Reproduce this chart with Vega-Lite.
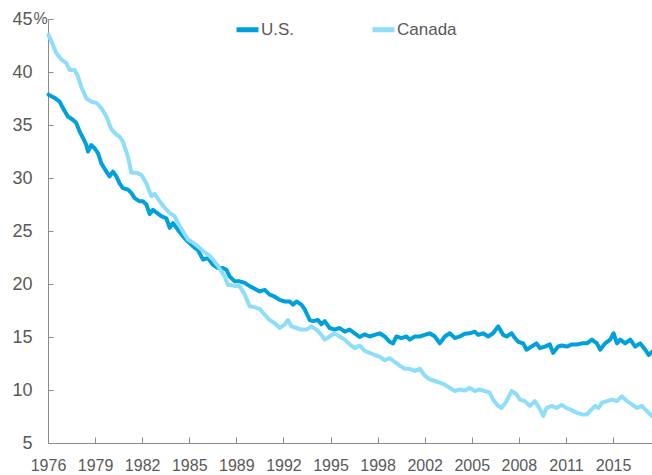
{
  "$schema": "https://vega.github.io/schema/vega-lite/v6.json",
  "width": 604,
  "height": 424,
  "autosize": {"type": "none"},
  "padding": {"left": 48, "top": 19, "right": 0, "bottom": 32},
  "background": "white",
  "config": {
    "view": {"stroke": null},
    "axis": {
      "domainColor": "#8c8c8c",
      "tickColor": "#8c8c8c",
      "labelColor": "#595959",
      "labelFont": "Liberation Sans",
      "labelFontSize": 16,
      "grid": false
    },
    "legend": {
      "labelFont": "Liberation Sans",
      "labelFontSize": 17,
      "labelColor": "#595959"
    }
  },
  "data": {
    "values": [
      {"t": 1976.04, "s": "U.S.", "v": 37.86},
      {"t": 1976.46, "s": "U.S.", "v": 37.55},
      {"t": 1976.80, "s": "U.S.", "v": 37.2},
      {"t": 1977.03, "s": "U.S.", "v": 36.6},
      {"t": 1977.37, "s": "U.S.", "v": 35.8},
      {"t": 1977.72, "s": "U.S.", "v": 35.5},
      {"t": 1977.95, "s": "U.S.", "v": 35.2},
      {"t": 1978.18, "s": "U.S.", "v": 34.4},
      {"t": 1978.41, "s": "U.S.", "v": 33.8},
      {"t": 1978.65, "s": "U.S.", "v": 33.1},
      {"t": 1978.76, "s": "U.S.", "v": 32.5},
      {"t": 1978.99, "s": "U.S.", "v": 33.1},
      {"t": 1979.22, "s": "U.S.", "v": 32.8},
      {"t": 1979.45, "s": "U.S.", "v": 32.35},
      {"t": 1979.68, "s": "U.S.", "v": 31.4},
      {"t": 1980.03, "s": "U.S.", "v": 30.6},
      {"t": 1980.25, "s": "U.S.", "v": 30.15},
      {"t": 1980.48, "s": "U.S.", "v": 30.6},
      {"t": 1980.72, "s": "U.S.", "v": 30.15},
      {"t": 1980.94, "s": "U.S.", "v": 29.5},
      {"t": 1981.17, "s": "U.S.", "v": 29.05},
      {"t": 1981.52, "s": "U.S.", "v": 28.9},
      {"t": 1981.75, "s": "U.S.", "v": 28.6},
      {"t": 1981.98, "s": "U.S.", "v": 28.1},
      {"t": 1982.33, "s": "U.S.", "v": 27.8},
      {"t": 1982.55, "s": "U.S.", "v": 27.8},
      {"t": 1982.79, "s": "U.S.", "v": 27.5},
      {"t": 1983.02, "s": "U.S.", "v": 26.6},
      {"t": 1983.24, "s": "U.S.", "v": 27.0},
      {"t": 1983.82, "s": "U.S.", "v": 26.4},
      {"t": 1984.17, "s": "U.S.", "v": 26.2},
      {"t": 1984.40, "s": "U.S.", "v": 25.3},
      {"t": 1984.63, "s": "U.S.", "v": 25.75},
      {"t": 1984.97, "s": "U.S.", "v": 25.1},
      {"t": 1985.32, "s": "U.S.", "v": 24.5},
      {"t": 1985.66, "s": "U.S.", "v": 24.0},
      {"t": 1986.01, "s": "U.S.", "v": 23.55},
      {"t": 1986.35, "s": "U.S.", "v": 23.2},
      {"t": 1986.70, "s": "U.S.", "v": 22.3},
      {"t": 1987.04, "s": "U.S.", "v": 22.45},
      {"t": 1987.39, "s": "U.S.", "v": 21.8},
      {"t": 1987.73, "s": "U.S.", "v": 21.5},
      {"t": 1988.08, "s": "U.S.", "v": 21.5},
      {"t": 1988.31, "s": "U.S.", "v": 21.35},
      {"t": 1988.54, "s": "U.S.", "v": 20.7},
      {"t": 1988.89, "s": "U.S.", "v": 20.25},
      {"t": 1989.23, "s": "U.S.", "v": 20.25},
      {"t": 1989.58, "s": "U.S.", "v": 20.1},
      {"t": 1989.92, "s": "U.S.", "v": 19.8},
      {"t": 1990.27, "s": "U.S.", "v": 19.55},
      {"t": 1990.61, "s": "U.S.", "v": 19.3},
      {"t": 1990.96, "s": "U.S.", "v": 19.45},
      {"t": 1991.30, "s": "U.S.", "v": 19.0},
      {"t": 1991.65, "s": "U.S.", "v": 18.8},
      {"t": 1991.99, "s": "U.S.", "v": 18.5},
      {"t": 1992.34, "s": "U.S.", "v": 18.35},
      {"t": 1992.68, "s": "U.S.", "v": 18.35},
      {"t": 1992.91, "s": "U.S.", "v": 18.05},
      {"t": 1993.15, "s": "U.S.", "v": 18.35},
      {"t": 1993.49, "s": "U.S.", "v": 18.05},
      {"t": 1993.72, "s": "U.S.", "v": 17.6},
      {"t": 1994.07, "s": "U.S.", "v": 16.6},
      {"t": 1994.29, "s": "U.S.", "v": 16.5},
      {"t": 1994.64, "s": "U.S.", "v": 16.6},
      {"t": 1994.87, "s": "U.S.", "v": 16.2},
      {"t": 1995.10, "s": "U.S.", "v": 16.5},
      {"t": 1995.44, "s": "U.S.", "v": 15.85},
      {"t": 1995.79, "s": "U.S.", "v": 15.7},
      {"t": 1996.13, "s": "U.S.", "v": 15.85},
      {"t": 1996.48, "s": "U.S.", "v": 15.5},
      {"t": 1996.82, "s": "U.S.", "v": 15.7},
      {"t": 1997.17, "s": "U.S.", "v": 15.35},
      {"t": 1997.51, "s": "U.S.", "v": 15.0},
      {"t": 1997.86, "s": "U.S.", "v": 15.25},
      {"t": 1998.20, "s": "U.S.", "v": 15.05},
      {"t": 1998.55, "s": "U.S.", "v": 15.2},
      {"t": 1998.89, "s": "U.S.", "v": 15.35},
      {"t": 1999.24, "s": "U.S.", "v": 15.05},
      {"t": 1999.58, "s": "U.S.", "v": 14.55},
      {"t": 1999.82, "s": "U.S.", "v": 14.4},
      {"t": 2000.05, "s": "U.S.", "v": 15.05},
      {"t": 2000.40, "s": "U.S.", "v": 14.9},
      {"t": 2000.74, "s": "U.S.", "v": 15.05},
      {"t": 2000.97, "s": "U.S.", "v": 14.75},
      {"t": 2001.32, "s": "U.S.", "v": 15.05},
      {"t": 2001.66, "s": "U.S.", "v": 15.05},
      {"t": 2002.01, "s": "U.S.", "v": 15.2},
      {"t": 2002.35, "s": "U.S.", "v": 15.35},
      {"t": 2002.70, "s": "U.S.", "v": 15.05},
      {"t": 2003.04, "s": "U.S.", "v": 14.4},
      {"t": 2003.39, "s": "U.S.", "v": 15.05},
      {"t": 2003.73, "s": "U.S.", "v": 15.35},
      {"t": 2004.08, "s": "U.S.", "v": 14.9},
      {"t": 2004.42, "s": "U.S.", "v": 15.05},
      {"t": 2004.77, "s": "U.S.", "v": 15.3},
      {"t": 2005.11, "s": "U.S.", "v": 15.35},
      {"t": 2005.46, "s": "U.S.", "v": 15.5},
      {"t": 2005.69, "s": "U.S.", "v": 15.2},
      {"t": 2006.03, "s": "U.S.", "v": 15.35},
      {"t": 2006.38, "s": "U.S.", "v": 15.05},
      {"t": 2006.72, "s": "U.S.", "v": 15.35},
      {"t": 2007.07, "s": "U.S.", "v": 16.0},
      {"t": 2007.42, "s": "U.S.", "v": 15.2},
      {"t": 2007.65, "s": "U.S.", "v": 15.05},
      {"t": 2008.00, "s": "U.S.", "v": 15.35},
      {"t": 2008.23, "s": "U.S.", "v": 14.9},
      {"t": 2008.45, "s": "U.S.", "v": 14.55},
      {"t": 2008.80, "s": "U.S.", "v": 14.4},
      {"t": 2009.03, "s": "U.S.", "v": 13.8},
      {"t": 2009.38, "s": "U.S.", "v": 14.1},
      {"t": 2009.72, "s": "U.S.", "v": 14.4},
      {"t": 2009.95, "s": "U.S.", "v": 13.95},
      {"t": 2010.30, "s": "U.S.", "v": 14.1},
      {"t": 2010.64, "s": "U.S.", "v": 14.3},
      {"t": 2010.87, "s": "U.S.", "v": 13.5},
      {"t": 2011.21, "s": "U.S.", "v": 14.1},
      {"t": 2011.47, "s": "U.S.", "v": 14.2},
      {"t": 2011.81, "s": "U.S.", "v": 14.1},
      {"t": 2012.16, "s": "U.S.", "v": 14.3},
      {"t": 2012.51, "s": "U.S.", "v": 14.3},
      {"t": 2012.85, "s": "U.S.", "v": 14.4},
      {"t": 2013.20, "s": "U.S.", "v": 14.4},
      {"t": 2013.54, "s": "U.S.", "v": 14.75},
      {"t": 2013.89, "s": "U.S.", "v": 14.4},
      {"t": 2014.11, "s": "U.S.", "v": 13.8},
      {"t": 2014.46, "s": "U.S.", "v": 14.4},
      {"t": 2014.80, "s": "U.S.", "v": 14.75},
      {"t": 2015.04, "s": "U.S.", "v": 15.35},
      {"t": 2015.27, "s": "U.S.", "v": 14.4},
      {"t": 2015.50, "s": "U.S.", "v": 14.75},
      {"t": 2015.84, "s": "U.S.", "v": 14.4},
      {"t": 2016.19, "s": "U.S.", "v": 14.75},
      {"t": 2016.53, "s": "U.S.", "v": 14.1},
      {"t": 2016.88, "s": "U.S.", "v": 14.4},
      {"t": 2017.22, "s": "U.S.", "v": 13.8},
      {"t": 2017.46, "s": "U.S.", "v": 13.3},
      {"t": 2017.69, "s": "U.S.", "v": 13.6},

      {"t": 1976.04, "s": "Canada", "v": 43.5},
      {"t": 1976.57, "s": "Canada", "v": 41.8},
      {"t": 1976.92, "s": "Canada", "v": 41.2},
      {"t": 1977.26, "s": "Canada", "v": 40.85},
      {"t": 1977.49, "s": "Canada", "v": 40.2},
      {"t": 1977.84, "s": "Canada", "v": 40.2},
      {"t": 1978.06, "s": "Canada", "v": 39.6},
      {"t": 1978.30, "s": "Canada", "v": 38.6},
      {"t": 1978.65, "s": "Canada", "v": 37.5},
      {"t": 1978.99, "s": "Canada", "v": 37.2},
      {"t": 1979.34, "s": "Canada", "v": 37.1},
      {"t": 1979.68, "s": "Canada", "v": 36.6},
      {"t": 1980.03, "s": "Canada", "v": 35.8},
      {"t": 1980.37, "s": "Canada", "v": 34.6},
      {"t": 1980.72, "s": "Canada", "v": 34.1},
      {"t": 1980.94, "s": "Canada", "v": 33.9},
      {"t": 1981.17, "s": "Canada", "v": 33.45},
      {"t": 1981.52, "s": "Canada", "v": 32.0},
      {"t": 1981.75, "s": "Canada", "v": 30.5},
      {"t": 1982.10, "s": "Canada", "v": 30.5},
      {"t": 1982.44, "s": "Canada", "v": 30.3},
      {"t": 1982.79, "s": "Canada", "v": 29.5},
      {"t": 1983.13, "s": "Canada", "v": 28.3},
      {"t": 1983.36, "s": "Canada", "v": 28.5},
      {"t": 1983.71, "s": "Canada", "v": 27.8},
      {"t": 1984.05, "s": "Canada", "v": 27.2},
      {"t": 1984.40, "s": "Canada", "v": 26.7},
      {"t": 1984.74, "s": "Canada", "v": 26.4},
      {"t": 1984.97, "s": "Canada", "v": 25.75},
      {"t": 1985.32, "s": "Canada", "v": 24.95},
      {"t": 1985.66, "s": "Canada", "v": 24.2},
      {"t": 1986.01, "s": "Canada", "v": 23.9},
      {"t": 1986.35, "s": "Canada", "v": 23.55},
      {"t": 1986.70, "s": "Canada", "v": 23.1},
      {"t": 1987.04, "s": "Canada", "v": 22.8},
      {"t": 1987.39, "s": "Canada", "v": 22.3},
      {"t": 1987.73, "s": "Canada", "v": 21.7},
      {"t": 1987.97, "s": "Canada", "v": 21.2},
      {"t": 1988.20, "s": "Canada", "v": 20.7},
      {"t": 1988.42, "s": "Canada", "v": 19.9},
      {"t": 1988.66, "s": "Canada", "v": 19.9},
      {"t": 1988.89, "s": "Canada", "v": 19.8},
      {"t": 1989.23, "s": "Canada", "v": 19.8},
      {"t": 1989.58, "s": "Canada", "v": 19.0},
      {"t": 1989.92, "s": "Canada", "v": 17.9},
      {"t": 1990.27, "s": "Canada", "v": 17.8},
      {"t": 1990.61, "s": "Canada", "v": 17.65},
      {"t": 1990.96, "s": "Canada", "v": 17.1},
      {"t": 1991.30, "s": "Canada", "v": 16.6},
      {"t": 1991.65, "s": "Canada", "v": 16.3},
      {"t": 1991.99, "s": "Canada", "v": 15.85},
      {"t": 1992.34, "s": "Canada", "v": 16.2},
      {"t": 1992.57, "s": "Canada", "v": 16.6},
      {"t": 1992.80, "s": "Canada", "v": 16.0},
      {"t": 1993.15, "s": "Canada", "v": 15.85},
      {"t": 1993.49, "s": "Canada", "v": 15.7},
      {"t": 1993.84, "s": "Canada", "v": 15.7},
      {"t": 1994.18, "s": "Canada", "v": 16.0},
      {"t": 1994.53, "s": "Canada", "v": 15.7},
      {"t": 1994.87, "s": "Canada", "v": 15.2},
      {"t": 1995.10, "s": "Canada", "v": 14.75},
      {"t": 1995.44, "s": "Canada", "v": 15.05},
      {"t": 1995.79, "s": "Canada", "v": 15.35},
      {"t": 1996.13, "s": "Canada", "v": 15.05},
      {"t": 1996.48, "s": "Canada", "v": 14.75},
      {"t": 1996.82, "s": "Canada", "v": 14.3},
      {"t": 1997.17, "s": "Canada", "v": 13.95},
      {"t": 1997.51, "s": "Canada", "v": 14.2},
      {"t": 1997.86, "s": "Canada", "v": 13.7},
      {"t": 1998.20, "s": "Canada", "v": 13.5},
      {"t": 1998.55, "s": "Canada", "v": 13.3},
      {"t": 1998.89, "s": "Canada", "v": 13.15},
      {"t": 1999.24, "s": "Canada", "v": 12.8},
      {"t": 1999.58, "s": "Canada", "v": 13.0},
      {"t": 1999.94, "s": "Canada", "v": 12.65},
      {"t": 2000.28, "s": "Canada", "v": 12.3},
      {"t": 2000.63, "s": "Canada", "v": 12.0},
      {"t": 2000.97, "s": "Canada", "v": 12.0},
      {"t": 2001.32, "s": "Canada", "v": 11.8},
      {"t": 2001.66, "s": "Canada", "v": 12.0},
      {"t": 2002.01, "s": "Canada", "v": 11.35},
      {"t": 2002.35, "s": "Canada", "v": 11.0},
      {"t": 2002.70, "s": "Canada", "v": 10.85},
      {"t": 2003.04, "s": "Canada", "v": 10.7},
      {"t": 2003.39, "s": "Canada", "v": 10.5},
      {"t": 2003.73, "s": "Canada", "v": 10.2},
      {"t": 2004.08, "s": "Canada", "v": 9.9},
      {"t": 2004.42, "s": "Canada", "v": 10.05},
      {"t": 2004.77, "s": "Canada", "v": 9.95},
      {"t": 2005.11, "s": "Canada", "v": 10.2},
      {"t": 2005.46, "s": "Canada", "v": 9.9},
      {"t": 2005.80, "s": "Canada", "v": 10.05},
      {"t": 2006.15, "s": "Canada", "v": 9.9},
      {"t": 2006.49, "s": "Canada", "v": 9.75},
      {"t": 2006.72, "s": "Canada", "v": 9.1},
      {"t": 2007.07, "s": "Canada", "v": 8.5},
      {"t": 2007.30, "s": "Canada", "v": 8.3},
      {"t": 2007.65, "s": "Canada", "v": 8.95},
      {"t": 2008.00, "s": "Canada", "v": 9.9},
      {"t": 2008.34, "s": "Canada", "v": 9.6},
      {"t": 2008.57, "s": "Canada", "v": 9.1},
      {"t": 2008.91, "s": "Canada", "v": 8.95},
      {"t": 2009.26, "s": "Canada", "v": 8.5},
      {"t": 2009.61, "s": "Canada", "v": 8.95},
      {"t": 2009.95, "s": "Canada", "v": 8.2},
      {"t": 2010.18, "s": "Canada", "v": 7.55},
      {"t": 2010.41, "s": "Canada", "v": 8.3},
      {"t": 2010.76, "s": "Canada", "v": 8.5},
      {"t": 2011.10, "s": "Canada", "v": 8.3},
      {"t": 2011.45, "s": "Canada", "v": 8.6},
      {"t": 2011.79, "s": "Canada", "v": 8.3},
      {"t": 2012.14, "s": "Canada", "v": 8.1},
      {"t": 2012.51, "s": "Canada", "v": 7.85},
      {"t": 2012.85, "s": "Canada", "v": 7.7},
      {"t": 2013.20, "s": "Canada", "v": 7.7},
      {"t": 2013.54, "s": "Canada", "v": 8.2},
      {"t": 2013.77, "s": "Canada", "v": 8.5},
      {"t": 2014.00, "s": "Canada", "v": 8.3},
      {"t": 2014.23, "s": "Canada", "v": 8.8},
      {"t": 2014.58, "s": "Canada", "v": 8.95},
      {"t": 2014.92, "s": "Canada", "v": 9.1},
      {"t": 2015.27, "s": "Canada", "v": 8.95},
      {"t": 2015.61, "s": "Canada", "v": 9.4},
      {"t": 2015.96, "s": "Canada", "v": 8.95},
      {"t": 2016.30, "s": "Canada", "v": 8.65},
      {"t": 2016.65, "s": "Canada", "v": 8.3},
      {"t": 2016.99, "s": "Canada", "v": 8.5},
      {"t": 2017.34, "s": "Canada", "v": 8.0},
      {"t": 2017.69, "s": "Canada", "v": 7.55}
    ]
  },
  "mark": {"type": "line", "strokeWidth": 4, "strokeJoin": "round", "strokeCap": "round"},
  "encoding": {
    "x": {
      "field": "t",
      "type": "quantitative",
      "scale": {"domain": [1976, 2017.69], "nice": false, "zero": false},
      "axis": {
        "title": null,
        "values": [1976, 1979.25, 1982.5, 1985.75, 1989, 1992.25, 1995.5, 1998.75, 2002, 2005.25, 2008.5, 2011.75, 2015],
        "labelExpr": "'' + floor(datum.value)",
        "tickSize": -6,
        "labelPadding": 20,
        "labelFlush": false,
        "labelOverlap": false
      }
    },
    "y": {
      "field": "v",
      "type": "quantitative",
      "scale": {"domain": [5, 45], "nice": false, "zero": false},
      "axis": {
        "values": [5, 10, 15, 20, 25, 30, 35, 40, 45],
        "tickSize": -5,
        "labelPadding": 21,
        "labelFontSize": 18,
        "title": "%",
        "titleAngle": 0,
        "titleAlign": "left",
        "titleBaseline": "middle",
        "titleX": -15,
        "titleY": -1,
        "titleFont": "Liberation Sans",
        "titleFontSize": 16,
        "titleFontWeight": "normal",
        "titleColor": "#595959"
      }
    },
    "color": {
      "field": "s",
      "type": "nominal",
      "sort": ["U.S.", "Canada"],
      "scale": {"domain": ["U.S.", "Canada"], "range": ["#00A0DB", "#8EDDF9"]},
      "legend": {
        "title": null,
        "orient": "none",
        "direction": "horizontal",
        "legendX": 186,
        "legendY": -3,
        "symbolType": "stroke",
        "symbolSize": 484,
        "symbolStrokeWidth": 5,
        "labelOffset": 0,
        "columnPadding": 67
      }
    }
  }
}
